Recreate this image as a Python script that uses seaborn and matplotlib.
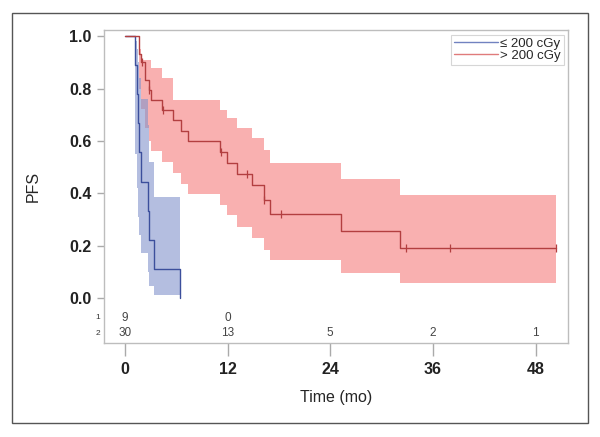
import numpy as np
import pandas as pd
import matplotlib
matplotlib.use("Agg")
import matplotlib.pyplot as plt
from matplotlib.patches import Rectangle
from matplotlib.lines import Line2D
import seaborn as sns

sns.set_style("white")
plt.rcParams['font.family'] = ['Liberation Sans', 'DejaVu Sans']

# ---- data ----
group_labels = ["\u2264 200 cGy", "> 200 cGy"]

blue_times = [0, 1.2, 1.37, 1.48, 1.68, 1.87, 2.65, 2.85, 3.43, 6.4]
blue_surv = [1.0, 0.889, 0.778, 0.667, 0.556, 0.444, 0.333, 0.222, 0.111, 0.0]
blue_upper = [1.0, 0.98, 0.95, 0.90, 0.84, 0.76, 0.66, 0.52, 0.387, 0.387]
blue_lower = [1.0, 0.55, 0.42, 0.31, 0.24, 0.17, 0.10, 0.045, 0.01, 0.01]

red_times = [0, 1.7, 1.9, 2.3, 2.8, 3.0, 4.3, 5.6, 6.6, 7.4, 11.1, 11.9, 13.1,
             14.8, 16.2, 17.0, 25.3, 32.2, 50.4]
red_surv = [1.0, 0.933, 0.90, 0.833, 0.795, 0.756, 0.717, 0.678, 0.639, 0.600,
            0.558, 0.516, 0.473, 0.430, 0.374, 0.320, 0.255, 0.190, 0.190]
red_upper = [1.0, 0.95, 0.91, 0.91, 0.91, 0.877, 0.84, 0.756, 0.756, 0.756,
             0.717, 0.686, 0.648, 0.61, 0.565, 0.514, 0.454, 0.393, 0.393]
red_lower = [1.0, 0.80, 0.72, 0.65, 0.60, 0.56, 0.52, 0.476, 0.437, 0.397,
             0.355, 0.317, 0.272, 0.23, 0.185, 0.145, 0.097, 0.056, 0.056]

red_censor_times = [1.95, 2.8, 4.4, 11.2, 14.3, 16.2, 18.2, 32.8, 38.0, 50.4]

risk_times = [0, 12, 24, 36, 48]
risk_row1 = ["9", "0", "", "", ""]
risk_row2 = ["30", "13", "5", "2", "1"]

x_ticks = [0, 12, 24, 36, 48]
y_ticks = [0.0, 0.2, 0.4, 0.6, 0.8, 1.0]

# ---- styling ----
blue_line = "#3c4f9c"
red_line = "#b33f40"
blue_fill = "#8294cc"
red_fill = "#f9acac"

fig = plt.figure(figsize=(6.0, 4.37), dpi=100)
ax = fig.add_axes([0.173, 0.215, 0.774, 0.716])

# outer frame
fig.patches.append(Rectangle((12 / 600, 1 - 423 / 437), 576 / 600, 410 / 437,
                             transform=fig.transFigure, fill=False,
                             edgecolor="#555555", linewidth=1.0))

# confidence bands
ax.fill_between(red_times, red_lower, red_upper, step="post", color=red_fill,
                linewidth=0, alpha=0.95, zorder=1)
ax.fill_between(blue_times, blue_lower, blue_upper, step="post", color=blue_fill,
                linewidth=0, alpha=0.6, zorder=2)

df = pd.concat([
    pd.DataFrame({"time": blue_times, "surv": blue_surv, "group": group_labels[0]}),
    pd.DataFrame({"time": red_times, "surv": red_surv, "group": group_labels[1]}),
])
sns.lineplot(data=df, x="time", y="surv", hue="group", estimator=None,
             palette=[blue_line, red_line], drawstyle="steps-post",
             linewidth=1.0, ax=ax, legend=False, zorder=3)

# censor marks
rt = np.array(red_times)
rs = np.array(red_surv)
idx = np.searchsorted(rt, red_censor_times, side="right") - 1
cens = pd.DataFrame({"time": red_censor_times, "surv": rs[idx]})
sns.scatterplot(data=cens, x="time", y="surv", marker="|", s=30,
                color=red_line, linewidth=0.9, ax=ax, zorder=4)

ax.set_xlim(-2.46, 51.8)
ax.set_ylim(-0.172, 1.023)

# axes styling
for sp in ax.spines.values():
    sp.set_color("#bdbdbd")
    sp.set_linewidth(1.0)
ax.set_xticks(x_ticks)
ax.set_yticks(y_ticks)
ax.set_yticklabels([f"{v:.1f}" for v in y_ticks], fontsize=11.5, fontweight="bold",
                   color="#222222")
ax.set_xticklabels([str(v) for v in x_ticks], fontsize=11.5, fontweight="bold",
                   color="#222222")
ax.tick_params(axis="y", direction="out", length=5, color="#aaaaaa", width=1, pad=4,
               left=True)
ax.tick_params(axis="x", direction="out", length=9, color="#aaaaaa", width=1, pad=5,
               bottom=True)
ax.set_xlabel("Time (mo)", fontsize=11.5, labelpad=9)
ax.set_ylabel("PFS", fontsize=11.5, labelpad=20)

# at-risk table
for t, a, b in zip(risk_times, risk_row1, risk_row2):
    ax.text(t, -0.076, a, ha="center", va="center", fontsize=8.5, color="#444444")
    ax.text(t, -0.134, b, ha="center", va="center", fontsize=8.5, color="#444444")
ax.text(-3.2, -0.076, "1", ha="center", va="center", fontsize=6, color="#333333",
        clip_on=False)
ax.text(-3.2, -0.134, "2", ha="center", va="center", fontsize=6, color="#333333",
        clip_on=False)

# legend
handles = [Line2D([], [], color="#7182c0", lw=1.0),
           Line2D([], [], color="#e07b7b", lw=1.0)]
leg = ax.legend(handles, group_labels, loc="upper right", fontsize=9.5,
                frameon=True, fancybox=False, handlelength=3.3, handletextpad=0.2,
                borderpad=0.2, labelspacing=0.0, borderaxespad=0.35)
leg.get_frame().set_edgecolor("#cccccc")
leg.get_frame().set_linewidth(0.8)

fig.savefig("out.png", dpi=100)
